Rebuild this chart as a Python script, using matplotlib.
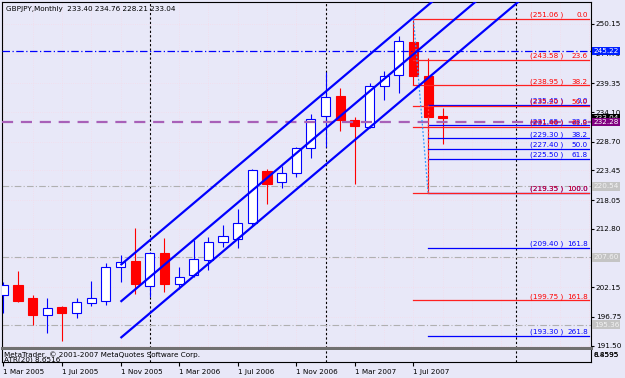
import matplotlib
matplotlib.use("Agg")
import matplotlib.pyplot as plt
import numpy as np

# monthly GBPJPY candles, Mar 2005 .. Sep 2007
opens = [200.74, 202.57, 200.20, 197.10, 198.55, 197.46, 199.28, 199.65, 205.85, 207.00,
         202.38, 208.40, 202.75, 204.39, 207.12, 210.46, 210.90, 213.92, 223.40, 221.29,
         222.93, 227.49, 233.38, 237.02, 232.65, 231.32, 238.85, 240.85, 246.95, 240.72,
         233.40]
highs = [203.11, 205.12, 200.74, 200.20, 198.74, 200.25, 203.30, 206.58, 208.04, 212.96,
         208.50, 211.13, 205.85, 210.77, 211.37, 213.50, 216.37, 223.71, 223.71, 224.32,
         227.78, 233.69, 241.34, 238.54, 233.25, 239.34, 241.64, 247.96, 251.06, 243.95,
         234.76]
lows = [197.46, 199.47, 195.27, 193.87, 192.41, 196.55, 198.74, 198.92, 203.11, 200.92,
        200.38, 201.29, 201.84, 204.00, 205.30, 209.55, 209.37, 213.32, 217.28, 220.20,
        222.31, 225.67, 227.78, 230.64, 220.92, 231.20, 236.29, 237.52, 239.03, 219.35,
        228.21]
closes = [202.57, 199.65, 197.10, 198.43, 197.46, 199.47, 200.20, 205.85, 206.76, 202.69,
          208.40, 202.75, 204.08, 207.31, 210.46, 211.50, 213.92, 223.53, 220.92, 222.93,
          227.49, 232.78, 236.90, 232.65, 231.55, 238.85, 240.72, 247.11, 240.72, 233.25,
          233.04]

date_ticks = [0, 4, 8, 12, 16, 20, 24, 28]
date_labels = ["1 Mar 2005", "1 Jul 2005", "1 Nov 2005", "1 Mar 2006",
               "1 Jul 2006", "1 Nov 2006", "1 Mar 2007", "1 Jul 2007"]
year_seps = [10, 22, 35]

price_ticks = [250.15, 244.75, 239.35, 234.10, 228.70, 223.45, 218.05, 212.80,
               207.40, 202.15, 196.75, 191.50]

# equidistant channel (anchor points)
chan_x = [8, 36]
chan_upper = [206.2, 269.4]
chan_middle = [199.5, 262.7]
chan_lower = [192.9, 256.1]

# fibonacci retracements
fib_red_x = 28
fib_red_levels = ["0.0", "23.6", "38.2", "50.0", "61.8", "100.0", "161.8"]
fib_red_prices = [251.06, 243.58, 238.95, 235.20, 231.46, 219.35, 199.75]
fib_blue_x = 29
fib_blue_levels = ["0.0", "23.6", "38.2", "50.0", "61.8", "100.0", "161.8", "261.8"]
fib_blue_prices = [235.45, 231.65, 229.30, 227.40, 225.50, 219.35, 209.40, 193.30]

# horizontal lines
hl_blue = 245.22
hl_purple = 232.28
hl_gray = [220.54, 207.60, 195.36]
bid = 233.04

W, H = 625, 378
bg = "#E8E8F8"
fs = 5.2
plt.rcParams["font.family"] = "DejaVu Sans"

fig = plt.figure(figsize=(W / 100, H / 100), dpi=100)
fig.patch.set_facecolor(bg)


def box(x0, y0, x1, y1):
    return [x0 / W, 1 - y1 / H, (x1 - x0) / W, (y1 - y0) / H]


ax = fig.add_axes(box(2, 2, 591, 348))
sub = fig.add_axes(box(2, 350, 591, 362), sharex=ax)
for a in (ax, sub):
    a.set_facecolor(bg)
    for s in a.spines.values():
        s.set_color("black")
        s.set_linewidth(0.8)
ax.spines["bottom"].set_color("#707070")
ax.spines["bottom"].set_linewidth(2.2)
sub.spines["top"].set_visible(False)

ax.set_xlim(-0.09, 40.12)
ax.set_ylim(191.08, 254.16)
sub.set_ylim(0, 1)

# faint grid
for gx in range(0, 41, 2):
    ax.axvline(gx, color="#F4DCEA", lw=0.6, ls=":", zorder=0)
for gy in price_ticks:
    ax.axhline(gy, color="#F4DCEA", lw=0.6, ls=":", zorder=0)

for s in year_seps:
    ax.axvline(s, color="black", lw=0.8, ls=(0, (2, 2)), zorder=1)
    sub.axvline(s, color="black", lw=0.8, ls=(0, (2, 2)), zorder=1)

# candles
xs = np.arange(len(opens))
o = np.array(opens)
c = np.array(closes)
up = c >= o
cols = np.where(up, "#0000FF", "#FF0000")
ax.vlines(xs, lows, highs, colors=cols, lw=0.8, zorder=3)
ax.bar(xs, np.maximum(np.abs(c - o), 0.08), bottom=np.minimum(o, c), width=0.62,
       color=np.where(up, "white", "#FF0000"), edgecolor=cols, lw=0.8, zorder=4)

# horizontal objects
ax.axhline(hl_blue, color="#0000FF", lw=0.9, ls=(0, (6, 2, 1, 2)), zorder=5)
ax.axhline(hl_purple, color="#A860B8", lw=1.6, ls=(0, (5, 3.5)), zorder=5)
for g in hl_gray:
    ax.axhline(g, color="#B0B0B0", lw=0.8, ls=(0, (6, 2, 1, 2)), zorder=1)

# fibo lines
x_end = 39.95
for p in fib_blue_prices:
    ax.plot([fib_blue_x, x_end], [p, p], color="#0000FF", lw=0.9, zorder=5)
for p in fib_red_prices:
    ax.plot([fib_red_x, x_end], [p, p], color="#FF2020", lw=0.9, zorder=5)
ax.plot([fib_red_x, fib_blue_x], [fib_red_prices[0], fib_red_prices[5]],
        color="#3399FF", lw=0.9, ls=(0, (1.5, 1.5)), zorder=5)
ax.plot([fib_blue_x, fib_blue_x], [fib_blue_prices[0], fib_blue_prices[5]],
        color="#FF4040", lw=0.9, ls=(0, (1.5, 1.5)), zorder=5)

for lv, p in zip(fib_blue_levels, fib_blue_prices):
    ax.annotate("(" + f"{p:.2f}" + " )", (38.2, p), xytext=(0, 0.6), textcoords="offset points",
                ha="right", va="bottom", fontsize=fs, color="#0000FF", zorder=7)
    ax.annotate(lv, (39.91, p), xytext=(0, 0.6), textcoords="offset points",
                ha="right", va="bottom", fontsize=fs, color="#0000FF", zorder=7)
for lv, p in zip(fib_red_levels, fib_red_prices):
    ax.annotate("(" + f"{p:.2f}" + " )", (38.2, p), xytext=(0, 0.6), textcoords="offset points",
                ha="right", va="bottom", fontsize=fs, color="#FF0000", zorder=7)
    ax.annotate(lv, (39.91, p), xytext=(0, 0.6), textcoords="offset points",
                ha="right", va="bottom", fontsize=fs, color="#FF0000", zorder=7)

# channel
for ch in (chan_upper, chan_middle, chan_lower):
    ax.plot(chan_x, ch, color="#0000FF", lw=1.6, zorder=6, solid_capstyle="butt")

# axes ticks
ax.yaxis.tick_right()
ax.set_yticks(price_ticks)
ax.set_yticklabels([f"{v:.2f}" for v in price_ticks])
ax.tick_params(axis="y", length=2, width=0.8, pad=1.5, labelsize=fs, direction="out")
ax.tick_params(axis="x", length=0, labelbottom=False)

sub.set_yticks([])
sub.set_xticks(date_ticks)
sub.set_xticklabels(date_labels)
sub.tick_params(axis="x", length=3, width=0.8, pad=2, labelsize=fs, direction="out")
for lbl in sub.get_xticklabels():
    lbl.set_ha("left")

# price labels on the axis
ytr = ax.get_yaxis_transform()
def tag(p, txt, fc, tc):
    ax.text(1.0045, p, txt, transform=ytr, ha="left", va="center", fontsize=fs, color=tc,
            bbox=dict(boxstyle="square,pad=0.16", fc=fc, ec="none"), clip_on=False, zorder=10)

for g in hl_gray:
    tag(g, f"{g:.2f}", "#C4C4C4", "#F2F2F2")
tag(hl_blue, f"{hl_blue:.2f}", "#0020FF", "white")
tag(bid, f"{bid:.2f}", "black", "white")
tag(hl_purple, f"{hl_purple:.2f}", "#800080", "white")

# header and sub window texts
fig.text(6 / W, 1 - 6 / H, "GBPJPY,Monthly  233.40 234.76 228.21 233.04",
         ha="left", va="top", fontsize=fs)
sub.text(0.0035, 0.9, "MetaTrader, \u00a9 2001-2007 MetaQuotes Software Corp.",
         transform=sub.transAxes, ha="left", va="top", fontsize=fs, zorder=5)
sub.text(0.0035, 0.45, "ATR(20) 8.6516", transform=sub.transAxes, ha="left", va="top",
         fontsize=fs, clip_on=True, zorder=5)
for t in ("6.4595", "8.8595"):
    sub.text(1.0045, 0.55, t, transform=sub.transAxes, ha="left", va="center",
             fontsize=fs, clip_on=False)

fig.savefig("out.png", dpi=100, facecolor=bg)
